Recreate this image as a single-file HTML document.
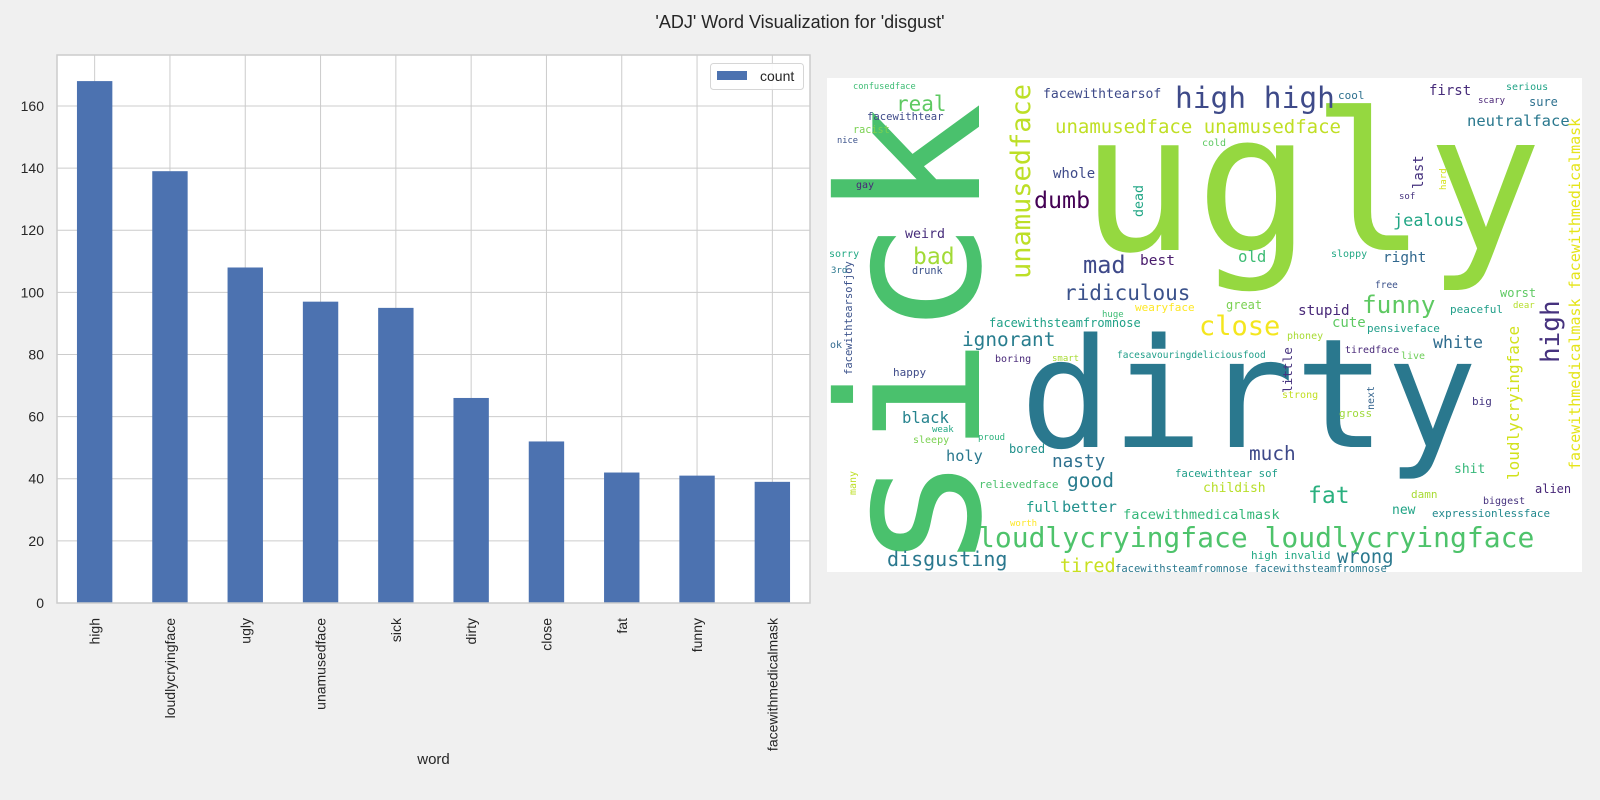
<!DOCTYPE html>
<html><head><meta charset="utf-8"><style>
html,body{margin:0;padding:0;background:#f0f0f0;}
#root{position:relative;width:1600px;height:800px;overflow:hidden;background:#f0f0f0;}
svg text{white-space:pre;}
</style></head><body>
<div id="root">
<svg id="fig" width="1600" height="800" xmlns="http://www.w3.org/2000/svg">
<text x="800" y="28" text-anchor="middle" font-family="Liberation Sans, sans-serif" font-size="18" fill="#262626">'ADJ' Word Visualization for 'disgust'</text>
<g id="bar-chart"></g>
<g id="cloud">
<rect x="827" y="78" width="755" height="494" fill="#ffffff"/>
</g>
</svg>
</div>
<script>
const categories = ["high","loudlycryingface","ugly","unamusedface","sick","dirty","close","fat","funny","facewithmedicalmask"];
const counts = [168,139,108,97,95,66,52,42,41,39];
const yTicks = [0,20,40,60,80,100,120,140,160];
const yMax = 176.4;

const NS = "http://www.w3.org/2000/svg";
const g = document.getElementById('bar-chart');
const L = 57, R = 810, T = 55, B = 603;
function xPos(i){ return L + (i + 0.5) * (R - L) / categories.length; }
function yPos(v){ return B - v / yMax * (B - T); }
const bw = 0.47 * (R - L) / categories.length;
function mk(tag, attrs){ const e = document.createElementNS(NS, tag); for (const k in attrs) e.setAttribute(k, attrs[k]); g.appendChild(e); return e; }

const bg = mk('rect', {x:L, y:T, width:R-L, height:B-T, fill:'#ffffff'});



yTicks.forEach(t => {
  const ln = mk('line', {x1:L, x2:R, y1:yPos(t), y2:yPos(t), stroke:'#cccccc', 'stroke-width':1});
  
  
  const tx = mk('text', {x:L-13, y:yPos(t)+5, 'text-anchor':'end', 'font-family':'Liberation Sans, sans-serif', 'font-size':14, fill:'#262626'});
  tx.textContent = t;
  
  
});
categories.forEach((c, i) => {
  const ln = mk('line', {x1:xPos(i), x2:xPos(i), y1:T, y2:B, stroke:'#cccccc', 'stroke-width':1});
  
  
});
categories.forEach((c, i) => {
  const r = mk('rect', {x:xPos(i)-bw/2, y:yPos(counts[i]), width:bw, height:B-yPos(counts[i]), fill:'#4c72b0'});
  
  
  const tx = mk('text', {transform:'translate(' + (xPos(i)+5) + ',618) rotate(-90)', 'text-anchor':'end', 'font-family':'Liberation Sans, sans-serif', 'font-size':14, fill:'#262626'});
  tx.textContent = c;
  
  
});
const fr = mk('rect', {x:L, y:T, width:R-L, height:B-T, fill:'none', stroke:'#cccccc', 'stroke-width':1.5});


const xl = mk('text', {x:(L+R)/2, y:764, 'text-anchor':'middle', 'font-family':'Liberation Sans, sans-serif', 'font-size':15, fill:'#262626'});
xl.textContent = 'word';


const lg = mk('rect', {x:710.5, y:63.5, width:93, height:26, rx:3, fill:'#ffffff', 'fill-opacity':0.9, stroke:'#d6d6d6'});


const lp = mk('rect', {x:717, y:71, width:30, height:9, fill:'#4c72b0'});


const lt = mk('text', {x:760, y:81, 'font-family':'Liberation Sans, sans-serif', 'font-size':14, fill:'#262626'});
lt.textContent = 'count';



// word cloud (static layout)
const words = [
["ugly",1080,250,192,"#95d840",0],
["dirty",1020,447,152,"#2a788e",0],
["sick",979,572,195,"#4ac16d",1],
["unamusedface",1030,279,27,"#bddf26",1],
["confusedface",853,89,8.7,"#3dbc74",0],
["real",896,111,21,"#5ec962",0],
["facewithtear",867,120,10.6,"#3e4a89",0],
["racist",853,133,10.2,"#7ad151",0],
["nice",837,143,8.7,"#3b528b",0],
["gay",856,188,10,"#482878",0],
["weird",905,238,13.3,"#472d7b",0],
["bad",913,264,23,"#a2da37",0],
["sorry",829,257,10,"#22a884",0],
["3rd",831,273,9,"#2a788e",0],
["drunk",912,274,10.2,"#3b528b",0],
["facewithtearsofjoy",852,375,10.5,"#3b528b",1],
["facewithtearsof",1043,98,13.1,"#3e4a89",0],
["unamusedface unamusedface",1055,133,19,"#c0df25",0],
["whole",1053,178,14,"#3e4a89",0],
["dumb",1034,208,23.3,"#440154",0],
["dead",1143,217,13.3,"#21a685",1],
["mad",1083,273,23.6,"#3e4989",0],
["best",1140,265,14.5,"#481a6c",0],
["ridiculous",1064,300,21,"#3b528b",0],
["huge",1102,317,9,"#3dbc74",0],
["wearyface",1135,311,11,"#fde725",0],
["high high",1175,108,29.5,"#3e4a89",0],
["cool",1338,99,11,"#2d708e",0],
["first",1429,95,14,"#472c7a",0],
["serious",1506,90,10,"#20a386",0],
["scary",1478,103,9,"#482475",0],
["sure",1529,106,12,"#2d708e",0],
["neutralface",1467,126,15.5,"#2a788e",0],
["cold",1202,146,10,"#5ec962",0],
["last",1423,189,14,"#46327e",1],
["hard",1446,190,9,"#d5e21a",1],
["sof",1399,199,9,"#46337f",0],
["jealous",1393,226,16.9,"#21a685",0],
["old",1238,262,15.7,"#3dbc74",0],
["sloppy",1331,257,10,"#22a884",0],
["right",1383,262,14.4,"#31688e",0],
["free",1375,288,9.5,"#3b528b",0],
["worst",1500,297,12,"#5ec962",0],
["dear",1513,308,9,"#b5de2b",0],
["peaceful",1450,313,11,"#1f9e89",0],
["great",1226,309,12,"#7ad151",0],
["funny",1362,313,24.4,"#5ec962",0],
["stupid",1298,315,14.3,"#482878",0],
["high",1559,363,26,"#46327e",1],
["facewithmedicalmask facewithmedicalmask",1580,470,15,"#e5e419",1],
["facewithsteamfromnose",989,327,12,"#1fa187",0],
["ignorant",962,346,19.4,"#287d8e",0],
["ok",830,348,10,"#31688e",0],
["boring",995,362,10,"#482878",0],
["smart",1052,361,9,"#a8db34",0],
["facesavouringdeliciousfood",1117,358,9.5,"#1f9e89",0],
["happy",893,376,11,"#3e4a89",0],
["black",902,423,15.6,"#25838e",0],
["weak",932,432,9,"#22a884",0],
["proud",978,440,9,"#2db27d",0],
["sleepy",913,443,10,"#7ad151",0],
["holy",946,461,15.3,"#2a788e",0],
["bored",1009,453,12,"#21918c",0],
["nasty",1052,467,17.7,"#2d708e",0],
["many",856,495,10,"#bddf26",1],
["relievedface",979,488,11,"#4ac16d",0],
["good",1067,487,19.5,"#287c8e",0],
["full",1026,512,14,"#1f9e89",0],
["better",1062,512,15.2,"#21908d",0],
["facewithmedicalmask",1123,519,13.7,"#35b779",0],
["worth",1010,526,9,"#fde725",0],
["loudlycryingface loudlycryingface",978,547,28,"#4ec36b",0],
["disgusting",887,566,20,"#2a788e",0],
["tired",1060,572,18.5,"#c8e020",0],
["facewithsteamfromnose facewithsteamfromnose",1115,572,10.5,"#2a788e",0],
["close",1199,335,27,"#f4e61e",0],
["cute",1332,327,14,"#5ec962",0],
["pensiveface",1367,332,11,"#1f9e89",0],
["phoney",1287,339,10,"#a8db34",0],
["white",1433,348,16.6,"#2f6c8e",0],
["tiredface",1345,353,10,"#482878",0],
["live",1401,359,10,"#6ece58",0],
["little",1292,393,12.7,"#46327e",1],
["strong",1282,398,10,"#c2df23",0],
["next",1374,410,10,"#33638d",1],
["loudlycryingface",1519,480,16,"#d2e21b",1],
["big",1472,405,11,"#453781",0],
["gross",1339,417,11,"#9fda3a",0],
["much",1249,460,19.4,"#3e4989",0],
["shit",1454,473,13,"#35b779",0],
["facewithtear sof",1175,477,10.7,"#1f9e89",0],
["childish",1203,492,13,"#b8de29",0],
["fat",1308,503,23,"#2ab07f",0],
["damn",1411,498,11,"#a8db34",0],
["alien",1535,493,12,"#482878",0],
["biggest",1483,504,10,"#46327e",0],
["new",1392,514,13,"#20a486",0],
["expressionlessface",1432,517,10.9,"#23898e",0],
["high invalid",1251,559,11,"#22a884",0],
["wrong",1337,563,18.8,"#2a788e",0]
];
const cg = document.getElementById('cloud');
words.forEach(w => {
  const t = document.createElementNS(NS, 'text');
  t.setAttribute('font-family', 'DejaVu Sans Mono, Liberation Mono, monospace');
  t.setAttribute('font-size', w[3]);
  t.setAttribute('fill', w[4]);
  if (w[5]) t.setAttribute('transform', 'translate(' + w[1] + ',' + w[2] + ') rotate(-90)');
  else { t.setAttribute('x', w[1]); t.setAttribute('y', w[2]); }
  t.textContent = w[0];
  
  
  cg.appendChild(t);
});
</script>
</body></html>
